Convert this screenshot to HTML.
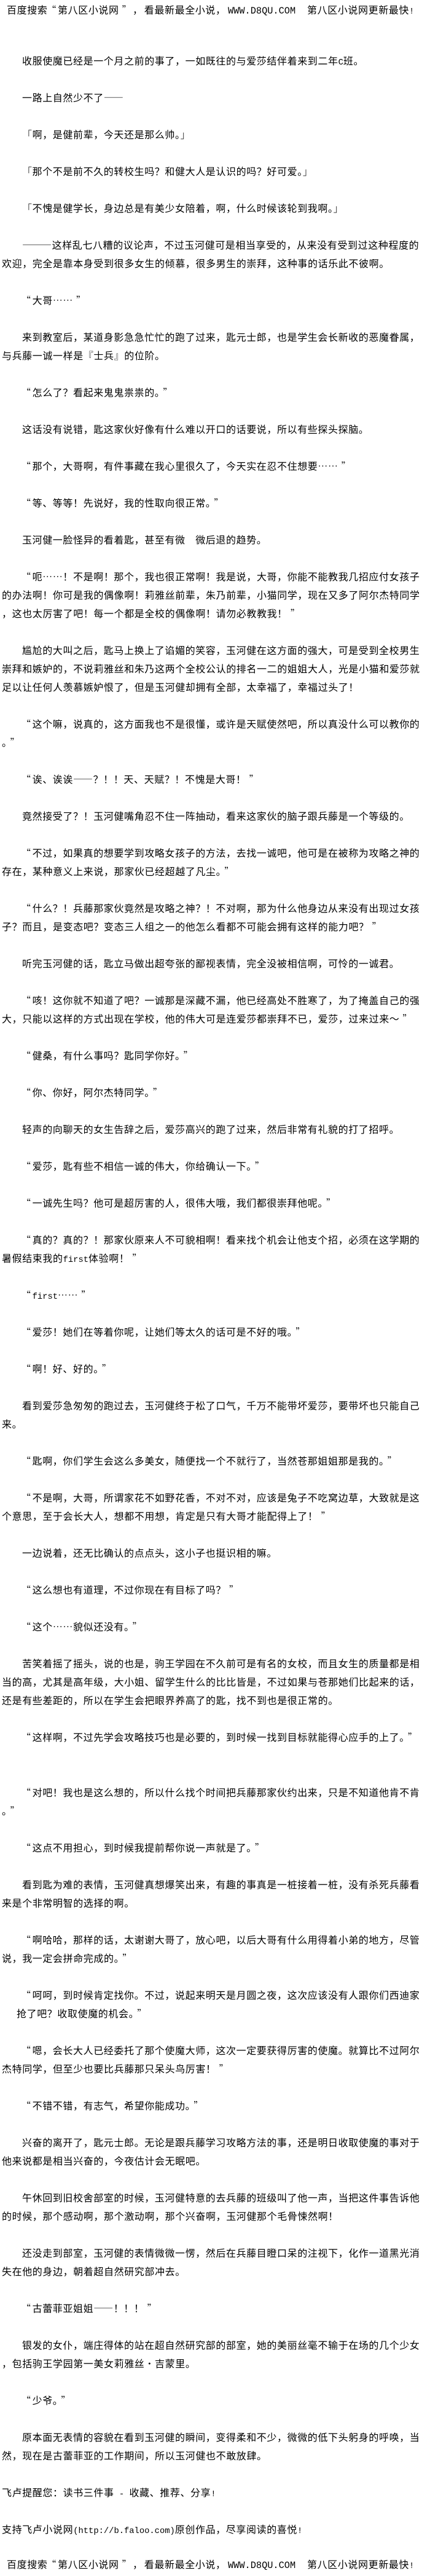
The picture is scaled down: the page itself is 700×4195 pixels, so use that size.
<!DOCTYPE html>
<html lang="zh-CN">
<head>
<meta charset="utf-8">
<title>第八区小说网</title>
<style>
html,body{margin:0;padding:0;background:#fff;}
body{position:relative;width:700px;height:4190px;overflow:hidden;color:#000;
font-family:"WenQuanYi Zen Hei","Noto Sans CJK SC",sans-serif;font-size:16px;}
p{position:absolute;margin:0;left:3px;height:30px;line-height:30px;white-space:pre;letter-spacing:.6px;}
p.i{left:36px;}
b{font:normal 13.8px/30px "Liberation Mono",monospace;letter-spacing:0;}
b.h{font-size:15.3px;}
i{font-style:normal;font-weight:300;font-family:"Noto Sans CJK SC",sans-serif;line-height:1;}
i.o{position:relative;left:-2px;}
i.c{position:relative;left:5px;}
</style>
</head>
<body>
<p style="top:0;left:11px">百度搜索<i class="o">“</i>第八区小说网<i class="c">”</i></p><p style="top:0;left:216px">，</p><p style="top:0;left:234.8px">看最新最全小说，</p><p style="top:0;left:371px"><b class="h">WWW.D8QU.COM</b></p><p style="top:0;left:500px">第八区小说网更新最快<b>!</b></p>
<p class="i" style="top:83px">收服使魔已经是一个月之前的事了，一如既往的与爱莎结伴着来到二年<b>C</b>班。</p>
<p class="i" style="top:143px">一路上自然少不了<i>——</i></p>
<p class="i" style="top:203px"><i>「</i>啊，是健前辈，今天还是那么帅。<i>」</i></p>
<p class="i" style="top:263px"><i>「</i>那个不是前不久的转校生吗？和健大人是认识的吗？好可爱。<i>」</i></p>
<p class="i" style="top:323px"><i>「</i>不愧是健学长，身边总是有美少女陪着，啊，什么时候该轮到我啊。<i>」</i></p>
<p class="i" style="top:383px"><i>———</i>这样乱七八糟的议论声，不过玉河健可是相当享受的，从来没有受到过这种程度的</p>
<p style="top:413px">欢迎，完全是靠本身受到很多女生的倾慕，很多男生的崇拜，这种事的话乐此不彼啊。</p>
<p class="i" style="top:473px"><i class="o">“</i>大哥<i>……</i><i class="c">”</i></p>
<p class="i" style="top:533px">来到教室后，某道身影急急忙忙的跑了过来，匙元士郎，也是学生会长新收的恶魔眷属，</p>
<p style="top:563px">与兵藤一诚一样是<i>『</i>士兵<i>』</i>的位阶。</p>
<p class="i" style="top:623px"><i class="o">“</i>怎么了？看起来鬼鬼祟祟的。<i class="c">”</i></p>
<p class="i" style="top:683px">这话没有说错，匙这家伙好像有什么难以开口的话要说，所以有些探头探脑。</p>
<p class="i" style="top:743px"><i class="o">“</i>那个，大哥啊，有件事藏在我心里很久了，今天实在忍不住想要<i>……</i><i class="c">”</i></p>
<p class="i" style="top:803px"><i class="o">“</i>等、等等！先说好，我的性取向很正常。<i class="c">”</i></p>
<p class="i" style="top:863px">玉河健一脸怪异的看着匙，甚至有微　微后退的趋势。</p>
<p class="i" style="top:923px"><i class="o">“</i>呃<i>……</i>！不是啊！那个，我也很正常啊！我是说，大哥，你能不能教我几招应付女孩子</p>
<p style="top:953px">的办法啊！你可是我的偶像啊！莉雅丝前辈，朱乃前辈，小猫同学，现在又多了阿尔杰特同学</p>
<p style="top:983px">，这也太厉害了吧！每一个都是全校的偶像啊！请勿必教教我！<i class="c">”</i></p>
<p class="i" style="top:1043px">尴尬的大叫之后，匙马上换上了谄媚的笑容，玉河健在这方面的强大，可是受到全校男生</p>
<p style="top:1073px">崇拜和嫉妒的，不说莉雅丝和朱乃这两个全校公认的排名一二的姐姐大人，光是小猫和爱莎就</p>
<p style="top:1103px">足以让任何人羡慕嫉妒恨了，但是玉河健却拥有全部，太幸福了，幸福过头了！</p>
<p class="i" style="top:1163px"><i class="o">“</i>这个嘛，说真的，这方面我也不是很懂，或许是天赋使然吧，所以真没什么可以教你的</p>
<p style="top:1193px">。<i class="c">”</i></p>
<p class="i" style="top:1253px"><i class="o">“</i>诶、诶诶<i>——</i>？！！天、天赋？！不愧是大哥！<i class="c">”</i></p>
<p class="i" style="top:1313px">竟然接受了？！玉河健嘴角忍不住一阵抽动，看来这家伙的脑子跟兵藤是一个等级的。</p>
<p class="i" style="top:1373px"><i class="o">“</i>不过，如果真的想要学到攻略女孩子的方法，去找一诚吧，他可是在被称为攻略之神的</p>
<p style="top:1403px">存在，某种意义上来说，那家伙已经超越了凡尘。<i class="c">”</i></p>
<p class="i" style="top:1463px"><i class="o">“</i>什么？！兵藤那家伙竟然是攻略之神？！不对啊，那为什么他身边从来没有出现过女孩</p>
<p style="top:1493px">子？而且，是变态吧？变态三人组之一的他怎么看都不可能会拥有这样的能力吧？<i class="c">”</i></p>
<p class="i" style="top:1553px">听完玉河健的话，匙立马做出超夸张的鄙视表情，完全没被相信啊，可怜的一诚君。</p>
<p class="i" style="top:1613px"><i class="o">“</i>咳！这你就不知道了吧？一诚那是深藏不漏，他已经高处不胜寒了，为了掩盖自己的强</p>
<p style="top:1643px">大，只能以这样的方式出现在学校，他的伟大可是连爱莎都崇拜不已，爱莎，过来过来～<i class="c">”</i></p>
<p class="i" style="top:1703px"><i class="o">“</i>健桑，有什么事吗？匙同学你好。<i class="c">”</i></p>
<p class="i" style="top:1763px"><i class="o">“</i>你、你好，阿尔杰特同学。<i class="c">”</i></p>
<p class="i" style="top:1823px">轻声的向聊天的女生告辞之后，爱莎高兴的跑了过来，然后非常有礼貌的打了招呼。</p>
<p class="i" style="top:1883px"><i class="o">“</i>爱莎，匙有些不相信一诚的伟大，你给确认一下。<i class="c">”</i></p>
<p class="i" style="top:1943px"><i class="o">“</i>一诚先生吗？他可是超厉害的人，很伟大哦，我们都很崇拜他呢。<i class="c">”</i></p>
<p class="i" style="top:2003px"><i class="o">“</i>真的？真的？！那家伙原来人不可貌相啊！看来找个机会让他支个招，必须在这学期的</p>
<p style="top:2033px">暑假结束我的<b>first</b>体验啊！<i class="c">”</i></p>
<p class="i" style="top:2093px"><i class="o">“</i><b>first</b><i>……</i><i class="c">”</i></p>
<p class="i" style="top:2153px"><i class="o">“</i>爱莎！她们在等着你呢，让她们等太久的话可是不好的哦。<i class="c">”</i></p>
<p class="i" style="top:2213px"><i class="o">“</i>啊！好、好的。<i class="c">”</i></p>
<p class="i" style="top:2273px">看到爱莎急匆匆的跑过去，玉河健终于松了口气，千万不能带坏爱莎，要带坏也只能自己</p>
<p style="top:2303px">来。</p>
<p class="i" style="top:2363px"><i class="o">“</i>匙啊，你们学生会这么多美女，随便找一个不就行了，当然苍那姐姐那是我的。<i class="c">”</i></p>
<p class="i" style="top:2423px"><i class="o">“</i>不是啊，大哥，所谓家花不如野花香，不对不对，应该是兔子不吃窝边草，大致就是这</p>
<p style="top:2453px">个意思，至于会长大人，想都不用想，肯定是只有大哥才能配得上了！<i class="c">”</i></p>
<p class="i" style="top:2513px">一边说着，还无比确认的点点头，这小子也挺识相的嘛。</p>
<p class="i" style="top:2573px"><i class="o">“</i>这么想也有道理，不过你现在有目标了吗？<i class="c">”</i></p>
<p class="i" style="top:2633px"><i class="o">“</i>这个<i>……</i>貌似还没有。<i class="c">”</i></p>
<p class="i" style="top:2693px">苦笑着摇了摇头，说的也是，驹王学园在不久前可是有名的女校，而且女生的质量都是相</p>
<p style="top:2723px">当的高，尤其是高年级，大小姐、留学生什么的比比皆是，不过如果与苍那她们比起来的话，</p>
<p style="top:2753px">还是有些差距的，所以在学生会把眼界养高了的匙，找不到也是很正常的。</p>
<p class="i" style="top:2813px"><i class="o">“</i>这样啊，不过先学会攻略技巧也是必要的，到时候一找到目标就能得心应手的上了。<i class="c">”</i></p>
<p class="i" style="top:2903px"><i class="o">“</i>对吧！我也是这么想的，所以什么找个时间把兵藤那家伙约出来，只是不知道他肯不肯</p>
<p style="top:2933px">。<i class="c">”</i></p>
<p class="i" style="top:2993px"><i class="o">“</i>这点不用担心，到时候我提前帮你说一声就是了。<i class="c">”</i></p>
<p class="i" style="top:3053px">看到匙为难的表情，玉河健真想爆笑出来，有趣的事真是一桩接着一桩，没有杀死兵藤看</p>
<p style="top:3083px">来是个非常明智的选择的啊。</p>
<p class="i" style="top:3143px"><i class="o">“</i>啊哈哈，那样的话，太谢谢大哥了，放心吧，以后大哥有什么用得着小弟的地方，尽管</p>
<p style="top:3173px">说，我一定会拼命完成的。<i class="c">”</i></p>
<p class="i" style="top:3233px"><i class="o">“</i>呵呵，到时候肯定找你。不过，说起来明天是月圆之夜，这次应该没有人跟你们西迪家</p>
<p style="top:3263px;left:27px">抢了吧？收取使魔的机会。<i class="c">”</i></p>
<p class="i" style="top:3323px"><i class="o">“</i>嗯，会长大人已经委托了那个使魔大师，这次一定要获得厉害的使魔。就算比不过阿尔</p>
<p style="top:3353px">杰特同学，但至少也要比兵藤那只呆头鸟厉害！<i class="c">”</i></p>
<p class="i" style="top:3413px"><i class="o">“</i>不错不错，有志气，希望你能成功。<i class="c">”</i></p>
<p class="i" style="top:3473px">兴奋的离开了，匙元士郎。无论是跟兵藤学习攻略方法的事，还是明日收取使魔的事对于</p>
<p style="top:3503px">他来说都是相当兴奋的，今夜估计会无眠吧。</p>
<p class="i" style="top:3563px">午休回到旧校舍部室的时候，玉河健特意的去兵藤的班级叫了他一声，当把这件事告诉他</p>
<p style="top:3593px">的时候，那个感动啊，那个激动啊，那个兴奋啊，玉河健那个毛骨悚然啊！</p>
<p class="i" style="top:3653px">还没走到部室，玉河健的表情微微一愣，然后在兵藤目瞪口呆的注视下，化作一道黑光消</p>
<p style="top:3683px">失在他的身边，朝着超自然研究部冲去。</p>
<p class="i" style="top:3743px"><i class="o">“</i>古蕾菲亚姐姐<i>——</i>！！！<i class="c">”</i></p>
<p class="i" style="top:3803px">银发的女仆，端庄得体的站在超自然研究部的部室，她的美丽丝毫不输于在场的几个少女</p>
<p style="top:3833px">，包括驹王学园第一美女莉雅丝<i>·</i>吉蒙里。</p>
<p class="i" style="top:3893px"><i class="o">“</i>少爷。<i class="c">”</i></p>
<p class="i" style="top:3953px">原本面无表情的容貌在看到玉河健的瞬间，变得柔和不少，微微的低下头躬身的呼唤，当</p>
<p style="top:3983px">然，现在是古蕾菲亚的工作期间，所以玉河健也不敢放肆。</p>
<p style="top:4043px">飞卢提醒您：读书三件事<b> - </b>收藏、推荐、分享<b>!</b></p>
<p style="top:4103px">支持飞卢小说网<b>(http://b.faloo.com)</b>原创作品，尽享阅读的喜悦<b>!</b></p>
<p style="top:4160px;left:11px">百度搜索<i class="o">“</i>第八区小说网<i class="c">”</i></p><p style="top:4160px;left:216px">，</p><p style="top:4160px;left:234.8px">看最新最全小说，</p><p style="top:4160px;left:371px"><b class="h">WWW.D8QU.COM</b></p><p style="top:4160px;left:500px">第八区小说网更新最快<b>!</b></p>
</body>
</html>
